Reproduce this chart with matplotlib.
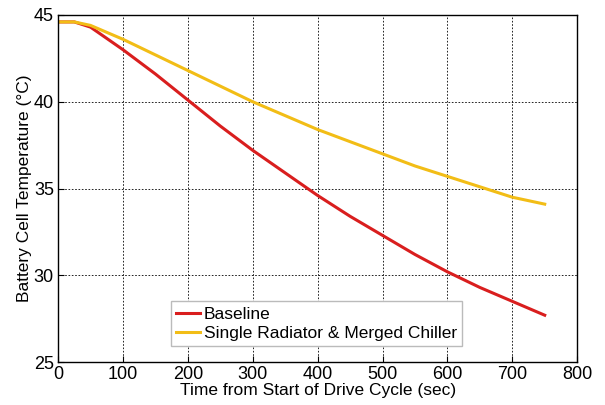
import matplotlib
matplotlib.use("Agg")
import matplotlib.pyplot as plt

plt.rcParams["font.family"] = ["Liberation Sans", "DejaVu Sans"]

time_s = [0, 25, 50, 100, 150, 200, 250, 300, 350, 400, 450, 500, 550, 600, 650, 700, 750]
baseline = [44.6, 44.6, 44.3, 43.0, 41.6, 40.1, 38.6, 37.2, 35.9, 34.6, 33.4, 32.3, 31.2, 30.2, 29.3, 28.5, 27.7]
merged = [44.6, 44.6, 44.4, 43.6, 42.7, 41.8, 40.9, 40.0, 39.2, 38.4, 37.7, 37.0, 36.3, 35.7, 35.1, 34.5, 34.1]

fig = plt.figure(figsize=(6.05, 4.05), dpi=100)
ax = fig.add_axes([0.096, 0.106, 0.858, 0.857])

ax.plot(time_s, baseline, color="#d91e1e", linewidth=2.2, label="Baseline")
ax.plot(time_s, merged, color="#f2bd16", linewidth=2.2, label="Single Radiator & Merged Chiller")

ax.set_xlim(0, 800)
ax.set_ylim(25, 45)
ax.set_xticks(range(0, 801, 100))
ax.set_yticks(range(25, 46, 5))
ax.grid(True, color="black", linestyle=(0, (2, 2)), linewidth=0.6)
ax.tick_params(direction="in", labelsize=13, length=4)
ax.tick_params(axis="x", pad=3)
ax.tick_params(axis="y", pad=3)
for s in ax.spines.values():
    s.set_linewidth(1.0)

ax.set_xlabel("Time from Start of Drive Cycle (sec)", fontsize=12.5, labelpad=0)
ax.set_ylabel("Battery Cell Temperature (\u00b0C)", fontsize=12.5, labelpad=1)

leg = ax.legend(loc="lower left", bbox_to_anchor=(0.2, 0.02), fontsize=12.5,
                fancybox=False, framealpha=1, edgecolor="#bbbbbb",
                handlelength=1.4, handletextpad=0.2, borderpad=0.3, labelspacing=0.25)

fig.savefig("out.png", dpi=100)
